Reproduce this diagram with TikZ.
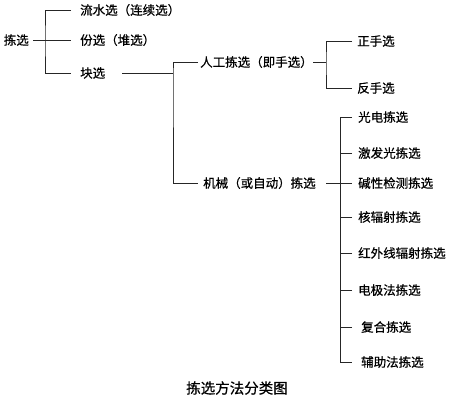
\documentclass[tikz,border=0pt]{standalone}
\usepackage{fontspec}
\newfontfamily\cjk[FakeBold=0.6]{Noto Sans CJK SC}
\tikzset{
  lbl/.style={anchor=west, inner ysep=1pt, font=\cjk\fontsize{12.5}{12.5}\selectfont, text=black},
  conn/.style={draw=black!85, line width=0.9pt},
}
\begin{document}
\begin{tikzpicture}[x=1pt,y=-1pt]
\useasboundingbox (0,0) rectangle (452,400);
% level 0/1
\node[lbl, anchor=east, inner xsep=4pt] (root) at (33,40) {拣选};
\node[lbl, inner xsep=9pt] (a1) at (71,10) {流水选（连续选）};
\node[lbl, inner xsep=9pt] (a2) at (71,40) {份选（堆选）};
\node[lbl, inner xsep=9pt] (a3) at (71,73) {块选};
\coordinate (j1) at (45,40);
\draw[conn] (a1.west) -| (j1) |- (a3.west);
\draw[conn] (root.east) -- (a2.west);
% level 2
\node[lbl, inner xsep=2pt] (b1) at (198,62) {人工拣选（即手选）};
\node[lbl, inner xsep=5pt] (b2) at (198,183) {机械（或自动）拣选};
\coordinate (j2) at (173,73);
\coordinate (a3e) at (122,73);
\draw[conn] (a3e) -- (j2);
\draw[conn] (b1.west) -| (j2) |- (b2.west);
% level 3 manual
\node[lbl, inner xsep=5pt] (c1) at (352,41) {正手选};
\node[lbl, inner xsep=5pt] (c2) at (352,88) {反手选};
\coordinate (j3) at (326,62);
\coordinate (b1e) at (313,62);
\draw[conn] (b1e) -- (j3);
\draw[conn] (c1.west) -| (j3) |- (c2.west);
% level 3 mechanical
\node[lbl, inner xsep=6pt] (d1) at (352,117) {光电拣选};
\node[lbl, inner xsep=6pt] (d2) at (352,153) {激发光拣选};
\node[lbl, inner xsep=6pt] (d3) at (352,183) {碱性检测拣选};
\node[lbl, inner xsep=6pt] (d4) at (352,217) {核辐射拣选};
\node[lbl, inner xsep=6pt] (d5) at (352,253) {红外线辐射拣选};
\node[lbl, inner xsep=6pt] (d6) at (352,290) {电极法拣选};
\node[lbl, inner xsep=9pt] (d7) at (352,327) {复合拣选};
\node[lbl, inner xsep=9pt] (d8) at (352,362) {辅助法拣选};
\coordinate (b2e) at (326,183);
\draw[conn] (b2e) -- (d3.west);
\draw[conn] (d1.west) -| (340,117) -- (340,362) |- (d8.west);
\foreach \n in {d2,d4,d5,d6,d7} \draw[conn] (\n.west) -- (\n.west -| 340,0);
% caption
\node[font=\cjk\fontsize{14.5}{14.5}\selectfont, text=black] (cap) at (237,388) {拣选方法分类图};
\end{tikzpicture}
\end{document}
